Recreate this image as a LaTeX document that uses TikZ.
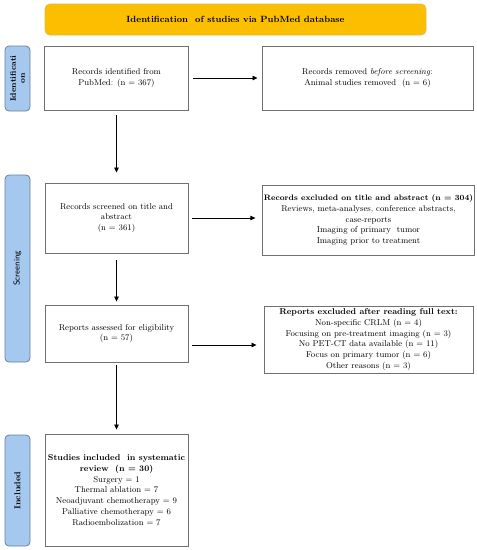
\documentclass[tikz,border=0pt]{standalone}
\usetikzlibrary{arrows.meta}
\definecolor{titlefill}{HTML}{FBBF00}
\definecolor{titleline}{HTML}{E6B84A}
\definecolor{labfill}{HTML}{A4C8EE}
\definecolor{labline}{HTML}{6B7F99}
\definecolor{boxline}{HTML}{707070}
\begin{document}
\begin{tikzpicture}[x=1pt,y=-1pt,
  txt/.style={font=\fontsize{8.5}{10.8}\selectfont},
  box/.style={draw=boxline, line width=0.9pt, fill=white, align=center, inner sep=2pt, txt},
  lab/.style={draw=labline, line width=0.8pt, fill=labfill, rounded corners=4pt, inner sep=0pt},
  arr/.style={-{Triangle[length=5pt,width=4.5pt]}, line width=0.75pt}]
\useasboundingbox (0,0) rectangle (477,550);
% title
\node[draw=titleline, line width=0.8pt, fill=titlefill, rounded corners=5pt, minimum width=381, minimum height=31, inner sep=0pt,
  font=\fontsize{9}{10}\selectfont\bfseries] (title) at (235.5,19.5) {Identification\ \ of studies via PubMed database};
% side labels
\node[lab, minimum width=25, minimum height=65] (lid) at (17.5,78.5) {};
\node[rotate=90, align=center, font=\fontsize{8}{9}\selectfont\bfseries] (lidt) at (lid.center) {Identificati\\on};
\node[lab, minimum width=25, minimum height=187] (lsc) at (17.5,268.5) {};
\node[rotate=90, font=\fontsize{8.5}{9}\selectfont\sffamily] (lsct) at (lsc.center) {Screening};
\node[lab, minimum width=25, minimum height=111] (lin) at (17.5,490.5) {};
\node[rotate=90, font=\fontsize{8.5}{9}\selectfont\bfseries] (lint) at (lin.center) {Included};
% boxes
\node[box, minimum width=144, minimum height=64] (b1) at (116.5,78) {Records identified from\\PubMed: (n = 367)};
\node[box, minimum width=211, minimum height=64] (r1) at (367.5,78) {Records removed \textit{before screening}:\\Animal studies removed\ \ (n = 6)};
\node[box, minimum width=143, minimum height=70] (b2) at (116.5,218) {Records screened on title and\\abstract\\(n = 361)};
\node[box, minimum width=209, minimum height=70, inner sep=1pt] (r2) at (368.5,220) {{\fontsize{7.9}{10.8}\selectfont\textbf{Records excluded on title and abstract (n = 304)}}\\Reviews, meta-analyses, conference abstracts,\\case-reports\\Imaging of primary\ \ tumor\\Imaging prior to treatment};
\node[box, minimum width=143, minimum height=57] (b3) at (116.5,333.5) {Reports assessed for eligibility\\(n = 57)};
\node[box, minimum width=209, minimum height=67] (r3) at (368.5,339.5) {\textbf{Reports excluded after reading full text:}\\Non-specific CRLM (n = 4)\\Focusing on pre-treatment imaging (n = 3)\\No PET-CT data available (n = 11)\\Focus on primary tumor (n = 6)\\Other reasons (n = 3)};
\node[box, minimum width=143, minimum height=112] (b4) at (116.5,490) {\textbf{Studies included\ \ in systematic}\\\textbf{review\ \ (n = 30)}\\Surgery = 1\\Thermal ablation = 7\\Neoadjuvant chemotherapy = 9\\Palliative chemotherapy = 6\\Radioembolization = 7};
% arrows
\coordinate (a3) at (0,345);
\draw[arr, shorten <=4pt, shorten >=4pt] (b1.east) -- (r1.west);
\draw[arr, shorten <=4pt, shorten >=7pt] (b2.east) -- (r2.west |- b2.east);
\draw[arr, shorten <=4pt, shorten >=7pt] (b3.east |- a3) -- (r3.west |- a3);
\draw[arr, shorten <=5pt, shorten >=10pt] (b1.south) -- (b2.north);
\draw[arr, shorten <=7pt, shorten >=3pt] (b2.south) -- (b3.north);
\draw[arr, shorten <=3pt, shorten >=4pt] (b3.south) -- (b4.north);
\end{tikzpicture}
\end{document}
